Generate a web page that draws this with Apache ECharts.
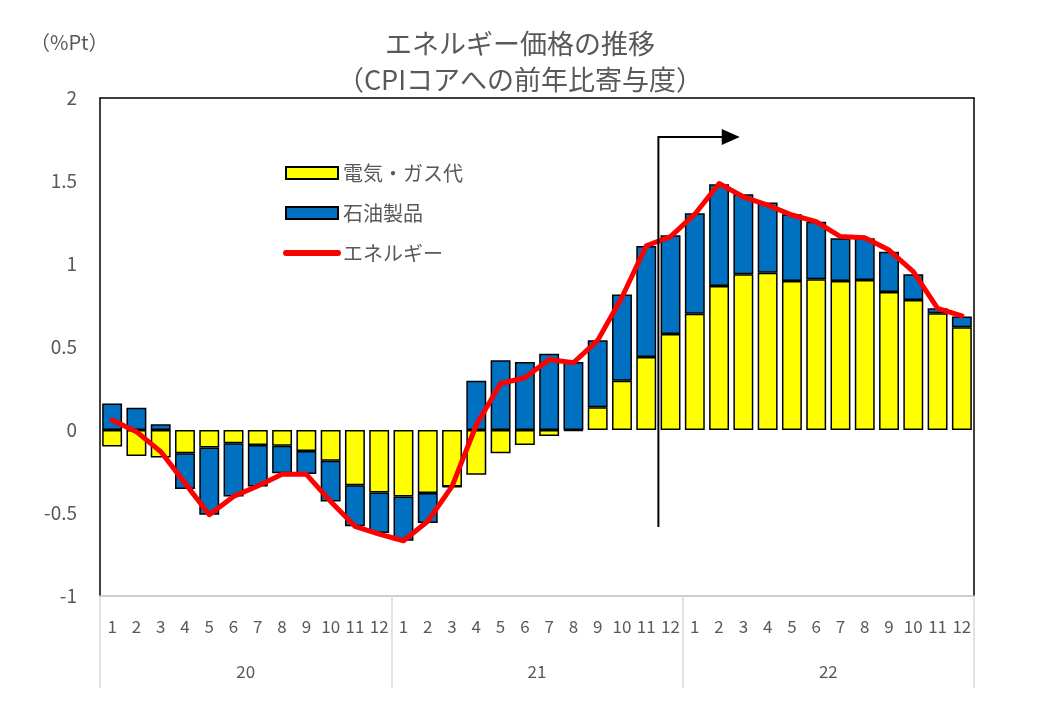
<!DOCTYPE html>
<html>
<head>
<meta charset="utf-8">
<script src="https://cdn.jsdelivr.net/npm/echarts@6/dist/echarts.min.js"></script>
<style>
html,body{margin:0;padding:0;background:#fff;}
#c{width:1040px;height:726px;}
</style>
</head>
<body>
<div id="c"></div>
<script>
// ---- data ----
const years = ['20', '21', '22'];
const months = ['1','2','3','4','5','6','7','8','9','10','11','12'];
const categories = [];
years.forEach(y => months.forEach(m => categories.push(y + '-' + m)));

const electricGas = [
  -0.10, -0.157, -0.165, -0.14, -0.106, -0.08, -0.09, -0.095, -0.127, -0.185, -0.333, -0.377,
  -0.40, -0.38, -0.34, -0.27, -0.14, -0.09, -0.036, -0.005, 0.137, 0.297, 0.44, 0.578,
  0.70, 0.867, 0.938, 0.948, 0.898, 0.908, 0.898, 0.904, 0.831, 0.783, 0.703, 0.619
];
const petroleum = [
  0.16, 0.134, 0.034, -0.215, -0.404, -0.32, -0.25, -0.165, -0.138, -0.245, -0.247, -0.243,
  -0.267, -0.18, -0.003, 0.297, 0.42, 0.41, 0.46, 0.41, 0.403, 0.52, 0.668, 0.595,
  0.605, 0.613, 0.482, 0.422, 0.402, 0.347, 0.257, 0.251, 0.243, 0.155, 0.03, 0.064
];
const energy = [
  0.06, -0.01, -0.13, -0.32, -0.51, -0.40, -0.337, -0.267, -0.267, -0.43, -0.58, -0.627,
  -0.667, -0.55, -0.34, 0.03, 0.28, 0.315, 0.425, 0.405, 0.54, 0.80, 1.11, 1.165,
  1.30, 1.485, 1.405, 1.355, 1.295, 1.255, 1.165, 1.158, 1.084, 0.954, 0.733, 0.687
];
const yTicks = { min: -1, max: 2, interval: 0.5 };

// annotation (arrow) anchor in data units: between categories 22 and 23
const arrowCatA = 22, arrowCatB = 23;
const arrowTopVal = 1.765, arrowBottomVal = -0.584, arrowEndCat = 25.85;

const FONT = '"Noto Sans CJK JP", "Noto Sans", sans-serif';
const TXT = '#595959';

const chart = echarts.init(document.getElementById('c'), null, {renderer: 'canvas'});

const option = {
  animation: false,
  backgroundColor: '#ffffff',
  textStyle: { fontFamily: FONT, color: TXT },
  title: [
    {
      text: 'エネルギー価格の推移\n（CPIコアへの前年比寄与度）',
      left: 520, top: 26, textAlign: 'center', padding: 0,
      textStyle: { fontFamily: FONT, fontSize: 27, fontWeight: 'normal', color: TXT, lineHeight: 36 }
    },
    {
      text: '（%Pt）',
      left: 30, top: 32, padding: 0,
      textStyle: { fontFamily: FONT, fontSize: 20, fontWeight: 'normal', color: TXT }
    }
  ],
  legend: {
    orient: 'vertical',
    left: 278, top: 158,
    itemWidth: 52, itemHeight: 12, itemGap: 20,
    textStyle: { fontFamily: FONT, fontSize: 20, color: TXT, padding: [0,0,0,0] },
    data: [
      { name: '電気・ガス代', icon: 'rect' },
      { name: '石油製品', icon: 'rect' },
      { name: 'エネルギー',
        itemStyle: { color: 'rgba(0,0,0,0)', borderWidth: 0, opacity: 0 },
        lineStyle: { width: 6, color: '#ff0000', cap: 'round' } }
    ]
  },
  grid: { left: 100, right: 66, top: 98, bottom: 130, containLabel: false },
  xAxis: [
    {
      type: 'category', data: categories, position: 'bottom', boundaryGap: true,
      axisLine: { onZero: false, lineStyle: { color: '#bfbfbf', width: 1.5 } },
      axisTick: { show: false },
      axisLabel: {
        interval: 0, margin: 22, fontSize: 17, color: TXT, fontFamily: FONT,
        formatter: v => v.split('-')[1]
      },
      splitLine: { show: false }
    },
    {
      type: 'category', data: years, position: 'bottom', boundaryGap: true,
      axisLine: { show: false, onZero: false },
      axisTick: { show: true, length: 92, lineStyle: { color: '#d9d9d9', width: 1.5 } },
      axisLabel: { interval: 0, margin: 67, fontSize: 17, color: TXT, fontFamily: FONT },
      splitLine: { show: false }
    },
    {
      type: 'category', data: categories, position: 'top',
      axisLine: { onZero: false, lineStyle: { color: '#000', width: 1.5 } },
      axisTick: { show: false }, axisLabel: { show: false }
    }
  ],
  yAxis: [
    {
      type: 'value', min: yTicks.min, max: yTicks.max, interval: yTicks.interval,
      axisLine: { show: true, lineStyle: { color: '#000', width: 1.5 } },
      axisTick: { show: false },
      splitLine: { show: false },
      axisLabel: { margin: 23, fontSize: 19, color: TXT, fontFamily: FONT }
    },
    {
      type: 'value', min: yTicks.min, max: yTicks.max, interval: yTicks.interval, position: 'right',
      axisLine: { show: true, lineStyle: { color: '#000', width: 1.5 } },
      axisTick: { show: false }, splitLine: { show: false }, axisLabel: { show: false }
    }
  ],
  series: [
    {
      name: '電気・ガス代', type: 'bar', stack: 'e', data: electricGas,
      barCategoryGap: '18%',
      itemStyle: { color: '#ffff00', borderColor: '#000', borderWidth: 1.5 }
    },
    {
      name: '石油製品', type: 'bar', stack: 'e', data: petroleum,
      barCategoryGap: '18%',
      itemStyle: { color: '#0070c0', borderColor: '#000', borderWidth: 1.5 }
    },
    {
      name: 'エネルギー', type: 'line', data: energy, z: 5,
      symbol: 'none', smooth: false,
      lineStyle: { color: '#ff0000', width: 5, cap: 'round', join: 'round' },
      itemStyle: { color: '#ff0000' }
    }
  ]
};
chart.setOption(option);

// arrow annotation computed via the chart's own scales
const xa = chart.convertToPixel({xAxisIndex: 0}, categories[arrowCatA]);
const xb = chart.convertToPixel({xAxisIndex: 0}, categories[arrowCatB]);
const step = xb - xa;
const ax = (xa + xb) / 2;
const aTop = chart.convertToPixel({yAxisIndex: 0}, arrowTopVal);
const aBot = chart.convertToPixel({yAxisIndex: 0}, arrowBottomVal);
const aEnd = xa + (arrowEndCat - arrowCatA) * step;
chart.setOption({
  graphic: [
    {
      type: 'polyline', z: 10,
      shape: { points: [[ax, aBot], [ax, aTop], [aEnd - 14, aTop]] },
      style: { stroke: '#000', lineWidth: 2, fill: null }
    },
    {
      type: 'polygon', z: 10,
      shape: { points: [[aEnd - 18, aTop - 8], [aEnd, aTop], [aEnd - 18, aTop + 8]] },
      style: { fill: '#000' }
    }
  ]
});
</script>
</body>
</html>
